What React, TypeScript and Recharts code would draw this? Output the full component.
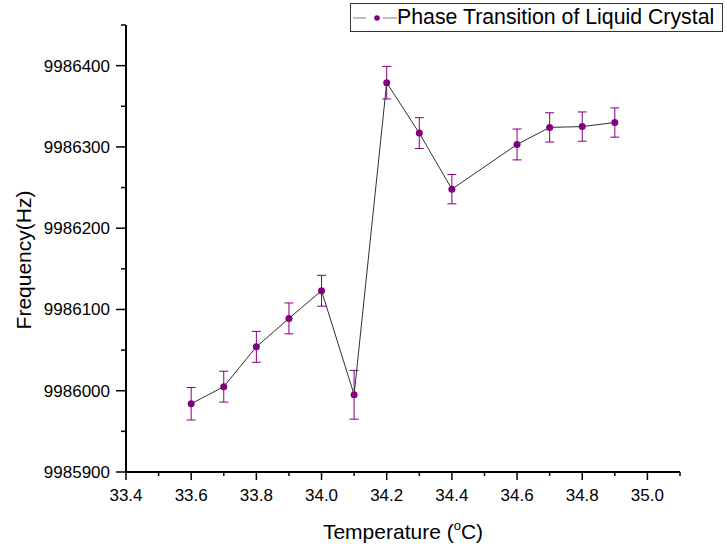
import { LineChart, Line, XAxis, YAxis, ErrorBar, Legend, Label } from 'recharts';

const temps = [33.6, 33.7, 33.8, 33.9, 34.0, 34.1, 34.2, 34.3, 34.4, 34.6, 34.7, 34.8, 34.9];
const freqs = [9985984, 9986005, 9986054, 9986089, 9986123, 9985995, 9986379, 9986317, 9986248, 9986303, 9986324, 9986325, 9986330];
const errs = [20, 19, 19, 19, 19, 30, 20, 19, 18, 19, 18, 18, 18];

const xTicks = [33.4, 33.5, 33.6, 33.7, 33.8, 33.9, 34.0, 34.1, 34.2, 34.3, 34.4, 34.5, 34.6, 34.7, 34.8, 34.9, 35.0, 35.1];
const yTicks = [9985900, 9985950, 9986000, 9986050, 9986100, 9986150, 9986200, 9986250, 9986300, 9986350, 9986400, 9986450];

const seriesName = 'Phase Transition of Liquid Crystal';
const purple = '#800080';
const font = '"Liberation Sans", Arial, sans-serif';

const data = temps.map((t, i) => ({ t, f: freqs[i], err: errs[i] }));

// tick text positions come in offset by tickSize + tickMargin
const XTick = (props: any) => {
  const { x, y, index } = props;
  const ay = y - 13;
  const major = index % 2 === 0;
  return (
    <g>
      <line x1={x} x2={x} y1={ay} y2={ay + (major ? 8 : 4)} stroke="#000" strokeWidth={1.5} />
      {major && (
        <text x={x} y={ay + 29} textAnchor="middle" fontSize={17} fill="#000" fontFamily={font}>
          {props.payload.value.toFixed(1)}
        </text>
      )}
    </g>
  );
};

const YTick = (props: any) => {
  const { x, y, index } = props;
  const ax = x + 16;
  const major = index % 2 === 0;
  return (
    <g>
      <line x1={ax - (major ? 10 : 5)} x2={ax} y1={y} y2={y} stroke="#000" strokeWidth={1.5} />
      {major && (
        <text x={ax - 16} y={y + 6} textAnchor="end" fontSize={17} fill="#000" fontFamily={font}>
          {props.payload.value}
        </text>
      )}
    </g>
  );
};

const LegendBox = () => (
  <div
    style={{
      width: 371,
      height: 27,
      border: '1px solid #333',
      background: '#fff',
      display: 'flex',
      alignItems: 'center',
      fontFamily: font,
      fontSize: 21.3,
      color: '#000',
      whiteSpace: 'nowrap',
    }}
  >
    <svg width={46} height={27} style={{ flex: 'none' }}>
      <line x1={2} x2={15} y1={14} y2={14} stroke="#808080" strokeWidth={1} />
      <line x1={32} x2={46} y1={14} y2={14} stroke="#808080" strokeWidth={1} />
      <circle cx={26} cy={14} r={2.8} fill={purple} />
    </svg>
    <span>{seriesName}</span>
  </div>
);

export default function App() {
  return (
    <div style={{ position: 'absolute', left: 0, top: 0, background: '#fff', fontFamily: font }}>
      <LineChart width={727} height={552} data={data} margin={{ top: 25, right: 47, bottom: 30, left: 0 }}>
        <XAxis
          dataKey="t"
          type="number"
          domain={[33.4, 35.1]}
          ticks={xTicks}
          interval={0}
          height={50}
          tickSize={7}
          tickMargin={6}
          tickLine={false}
          tick={<XTick />}
          axisLine={{ stroke: '#000', strokeWidth: 2 }}
        >
          <Label
            content={() => (
              <text x={403} y={539} textAnchor="middle" fontSize={21} fill="#000" fontFamily={font}>
                <tspan>Temperature (</tspan>
                <tspan dy={-9} fontSize={13}>o</tspan>
                <tspan dy={9}>C)</tspan>
              </text>
            )}
          />
        </XAxis>
        <YAxis
          type="number"
          domain={[9985900, 9986450]}
          ticks={yTicks}
          interval={0}
          width={126}
          tickSize={10}
          tickMargin={6}
          tickLine={false}
          tick={<YTick />}
          axisLine={{ stroke: '#000', strokeWidth: 2 }}
        >
          <Label
            content={() => (
              <text
                x={31}
                y={260}
                transform="rotate(-90 31 260)"
                textAnchor="middle"
                fontSize={21}
                fill="#000"
                fontFamily={font}
              >
                Frequency(Hz)
              </text>
            )}
          />
        </YAxis>
        <Legend
          layout="horizontal"
          verticalAlign="middle"
          content={<LegendBox />}
          wrapperStyle={{ top: 3, left: 350, width: 373 }}
        />
        <Line
          type="linear"
          dataKey="f"
          name={seriesName}
          stroke="#303030"
          strokeWidth={1}
          dot={{ r: 3.5, fill: purple, stroke: 'none' }}
          activeDot={false}
          isAnimationActive={false}
        >
          <ErrorBar dataKey="err" width={4.5} stroke={purple} strokeWidth={1} direction="y" />
        </Line>
      </LineChart>
    </div>
  );
}
